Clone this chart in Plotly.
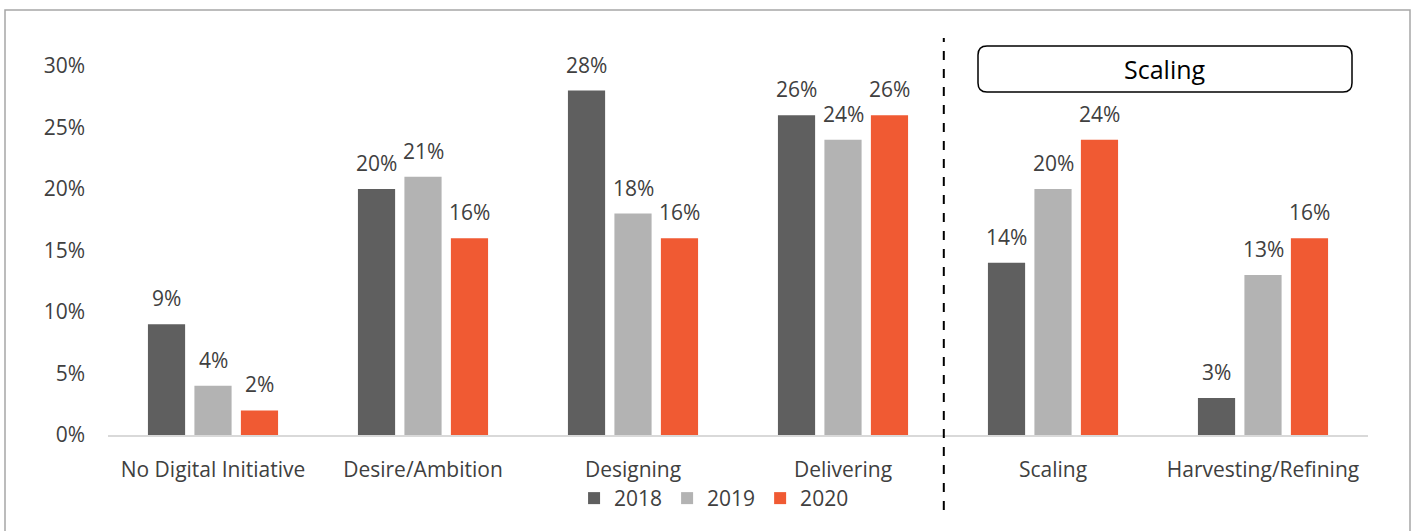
import plotly.graph_objects as go

# Digital maturity stages and share of respondents per survey year
categories = ["No Digital Initiative", "Desire/Ambition", "Designing",
              "Delivering", "Scaling", "Harvesting/Refining"]
years = ["2018", "2019", "2020"]
values_2018 = [9, 20, 28, 26, 14, 3]
values_2019 = [4, 21, 18, 24, 20, 13]
values_2020 = [2, 16, 16, 26, 24, 16]
y_ticks = [0, 5, 10, 15, 20, 25, 30]
y_tick_labels = ["0%", "5%", "10%", "15%", "20%", "25%", "30%"]
section_label = "Scaling"

colors = ["#5f5f5f", "#b3b3b3", "#f05a33"]
FONT = "Open Sans"
TEXT_COLOR = "#404040"

W, H = 1413, 531
ML, MR, MT, MB = 108, 45, 66, 96

fig = go.Figure()
x_idx = list(range(len(categories)))
series = [values_2018, values_2019, values_2020]
for name, vals, col in zip(years, series, colors):
    fig.add_trace(go.Bar(
        x=x_idx, y=vals, name=name,
        marker=dict(color=col, line=dict(width=0)),
        cliponaxis=False,
    ))

# paper-coordinate helpers (pixel -> paper)
pw, ph = W - ML - MR, H - MT - MB
def px(x):
    return (x - ML) / pw
def py(y):
    return (H - MB - y) / ph

# value labels above each bar, offset horizontally to each bar of the group
slot_px = 46.5
annotations = []
for k, vals in enumerate(series):
    for i, v in enumerate(vals):
        annotations.append(dict(
            x=i, y=v, xref="x", yref="y", text=f"{v}%", showarrow=False,
            xshift=(k - 1) * slot_px, yshift=10, yanchor="bottom", xanchor="center",
            font=dict(family=FONT, size=21, color=TEXT_COLOR)))

# rounded box for the section header
x0, x1, y0, y1 = px(978), px(1352), py(92), py(46)
rx, ry = 9 / pw, 9 / ph
path = (f"M {x0+rx},{y1} L {x1-rx},{y1} Q {x1},{y1} {x1},{y1-ry} "
        f"L {x1},{y0+ry} Q {x1},{y0} {x1-rx},{y0} "
        f"L {x0+rx},{y0} Q {x0},{y0} {x0},{y0+ry} "
        f"L {x0},{y1-ry} Q {x0},{y1} {x0+rx},{y1} Z")
annotations.append(dict(
    text=section_label, xref="paper", yref="paper",
    x=(x0 + x1) / 2, y=(y0 + y1) / 2, showarrow=False,
    font=dict(family=FONT, size=25, color="black"),
    xanchor="center", yanchor="middle"))

fig.update_layout(
    width=W, height=H,
    margin=dict(l=ML, r=MR, t=MT, b=MB),
    paper_bgcolor="white", plot_bgcolor="white",
    barmode="group", bargap=0.336, bargroupgap=0.2,
    font=dict(family=FONT, size=20, color=TEXT_COLOR),
    showlegend=True,
    legend=dict(orientation="h", x=0.481, xanchor="center", y=-0.172, yanchor="middle",
                bgcolor="rgba(0,0,0,0)",
                font=dict(family=FONT, size=21, color=TEXT_COLOR),
                itemwidth=30, traceorder="normal"),
    xaxis=dict(
        tickmode="array", tickvals=x_idx, ticktext=categories,
        range=[-0.5, 5.5], showline=True, linecolor="#d9d9d9", linewidth=2,
        showgrid=False, zeroline=False, ticks="", ticklabelstandoff=15,
        tickfont=dict(family=FONT, size=21, color=TEXT_COLOR),
    ),
    yaxis=dict(
        range=[0, 30], tickmode="array", tickvals=y_ticks, ticktext=y_tick_labels,
        showgrid=False, zeroline=False, showline=False, ticks="",
        ticklabelstandoff=22,
        tickfont=dict(family=FONT, size=21, color=TEXT_COLOR),
    ),
    shapes=[
        # outer frame
        dict(type="rect", xref="paper", yref="paper",
             x0=px(5), x1=px(1410), y0=py(560), y1=py(10),
             line=dict(color="#a6a6a6", width=1.5), fillcolor="rgba(0,0,0,0)", layer="below"),
        # section divider
        dict(type="line", xref="x", yref="paper", x0=3.48, x1=3.48, y0=py(510), y1=py(38),
             line=dict(color="black", width=2, dash="dash")),
        dict(type="path", xref="paper", yref="paper", path=path,
             line=dict(color="black", width=1.5), fillcolor="white"),
    ],
    annotations=annotations,
)

fig.write_html("out.html")
